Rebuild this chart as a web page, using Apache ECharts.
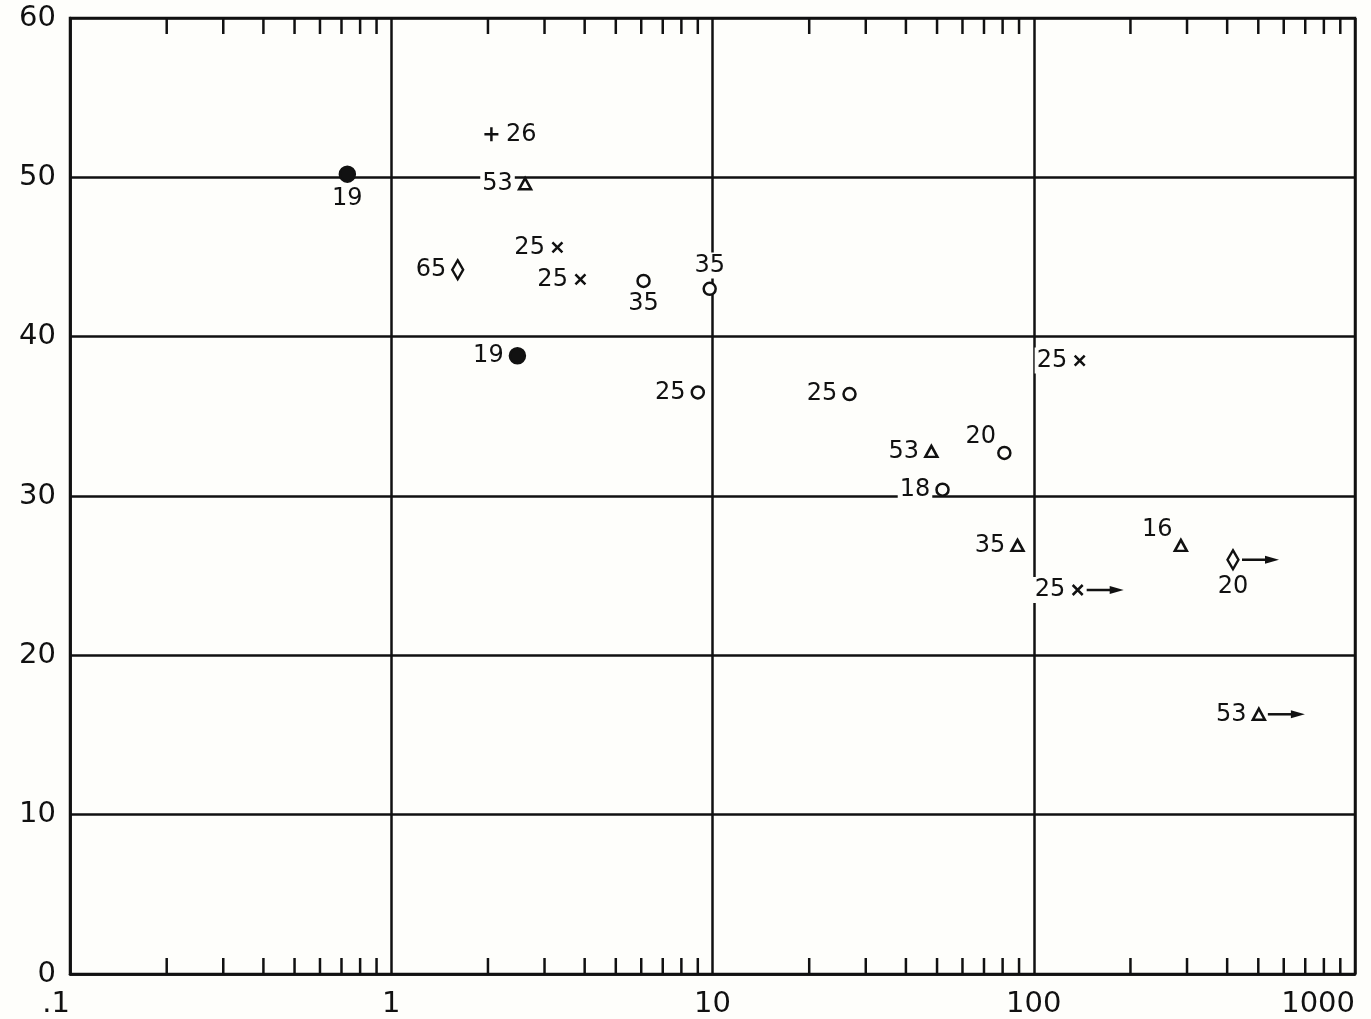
<!DOCTYPE html>
<html>
<head>
<meta charset="utf-8">
<script src="https://cdn.jsdelivr.net/npm/echarts@6/dist/echarts.min.js"></script>
<style>
html, body { margin: 0; padding: 0; background: #fefefb; }
#chart { width: 1371px; height: 1019px; }
</style>
</head>
<body>
<div id="chart"></div>
<script>
// Points as [x, y]; each mark carries the number written beside it.
const filledDots = [[0.73, 50.2], [2.47, 38.8]];
const filledDotLabels = ['19', '19'];
const filledDotSides = ['bottom', 'left'];

const openDots = [[6.1, 43.5], [9.8, 43.0], [9.0, 36.5], [26.7, 36.4], [81, 32.7], [52, 30.4]];
const openDotLabels = ['35', '35', '25', '25', '20', '18'];
const openDotSides = ['bottom', 'top', 'left', 'left', 'topleft', 'left'];

const triangles = [[2.61, 49.6], [48, 32.8], [89, 26.9], [287, 26.9], [502, 16.3]];
const triangleLabels = ['53', '53', '35', '16', '53'];
const triangleSides = ['left', 'left', 'left', 'topleft', 'left'];

const crosses = [[3.29, 45.6], [3.88, 43.6], [139, 38.5], [137, 24.1]];
const crossLabels = ['25', '25', '25', '25'];
const crossSides = ['left', 'left', 'left', 'left'];

const pluses = [[2.05, 52.7]];
const plusLabels = ['26'];
const plusSides = ['right'];

const diamonds = [[1.61, 44.2], [417, 26.0]];
const diamondLabels = ['65', '20'];
const diamondSides = ['left', 'bottom'];

// marks whose value is a lower bound, drawn with an arrow to the right
const lowerBounds = [[137, 24.1], [417, 26.0], [502, 16.3]];

const xDecades = [0.1, 1, 10, 100];
const xMantissas = [2, 3, 4, 5, 6, 7, 8, 9];
const xTickLabels = { 0.1: '.1', 1: '1', 10: '10', 100: '100', 1000: '1000' };

const INK = '#111';
const PAPER = '#fefefb';
const FONT = 'DejaVu Sans';
const LINE = 2.5;

const labelFor = ( text, side ) => {
	const base = {
		show: true,
		formatter: text,
		color: INK,
		fontFamily: FONT,
		fontSize: 24,
		backgroundColor: PAPER,
		padding: [ 1, 2 ],
		distance: 3
	};
	if ( side === 'topleft' ) {
		return Object.assign( base, { position: 'left', offset: [ 4, -16 ] } );
	}
	return Object.assign( base, { position: side } );
};

const pointsSeries = ( points, labels, sides, symbol, size, fill ) => ( {
	type: 'scatter',
	symbol,
	symbolSize: size,
	z: 5,
	itemStyle: { color: fill, borderColor: INK, borderWidth: LINE, opacity: 1 },
	data: points.map( ( p, i ) => ( {
		value: p,
		label: labelFor( labels[ i ], sides[ i ] )
	} ) )
} );

const minorTicks = [];
xDecades.forEach( ( d ) => xMantissas.forEach( ( m ) => minorTicks.push( [ +( d * m ).toPrecision( 3 ), 0 ] ) ) );

const chart = echarts.init( document.getElementById( 'chart' ), null, { renderer: 'canvas' } );

chart.setOption( {
	backgroundColor: PAPER,
	animation: false,
	grid: {
		left: 70, right: 16, top: 18, bottom: 44,
		show: true, borderColor: INK, borderWidth: LINE
	},
	xAxis: {
		type: 'log',
		logBase: 10,
		min: 0.1,
		max: 1000,
		axisLine: { show: true, lineStyle: { color: INK, width: LINE } },
		axisTick: { show: false },
		splitLine: { show: true, lineStyle: { color: INK, width: LINE } },
		axisLabel: {
			color: INK, fontFamily: FONT, fontSize: 29, margin: 16,
			alignMinLabel: 'right', alignMaxLabel: 'right',
			formatter: ( v ) => xTickLabels[ +v.toPrecision( 3 ) ] || ''
		}
	},
	yAxis: {
		type: 'value',
		min: 0,
		max: 60,
		interval: 10,
		axisLine: { show: true, lineStyle: { color: INK, width: LINE } },
		axisTick: { show: false },
		splitLine: { show: true, lineStyle: { color: INK, width: LINE } },
		axisLabel: { color: INK, fontFamily: FONT, fontSize: 29, margin: 14 }
	},
	series: [
		{
			type: 'custom',
			silent: true,
			z: 3,
			data: minorTicks,
			renderItem: ( params, api ) => {
				const v = api.value( 0 );
				const b = api.coord( [ v, 0 ] );
				const t = api.coord( [ v, 60 ] );
				const style = { stroke: INK, lineWidth: LINE };
				return {
					type: 'group',
					children: [
						{ type: 'line', shape: { x1: b[ 0 ], y1: b[ 1 ], x2: b[ 0 ], y2: b[ 1 ] - 16 }, style },
						{ type: 'line', shape: { x1: t[ 0 ], y1: t[ 1 ], x2: t[ 0 ], y2: t[ 1 ] + 16 }, style }
					]
				};
			}
		},
		{
			type: 'custom',
			silent: true,
			z: 4,
			data: lowerBounds,
			renderItem: ( params, api ) => {
				const p = api.coord( [ api.value( 0 ), api.value( 1 ) ] );
				return {
					type: 'group',
					children: [
						{ type: 'line', shape: { x1: p[ 0 ] + 9, y1: p[ 1 ], x2: p[ 0 ] + 38, y2: p[ 1 ] }, style: { stroke: INK, lineWidth: LINE } },
						{ type: 'polygon', shape: { points: [ [ p[ 0 ] + 32, p[ 1 ] - 4 ], [ p[ 0 ] + 46, p[ 1 ] ], [ p[ 0 ] + 32, p[ 1 ] + 4 ] ] }, style: { fill: INK } }
					]
				};
			}
		},
		pointsSeries( filledDots, filledDotLabels, filledDotSides, 'circle', 15, INK ),
		pointsSeries( openDots, openDotLabels, openDotSides, 'circle', 12, PAPER ),
		pointsSeries( triangles, triangleLabels, triangleSides, 'triangle', [ 12, 11 ], PAPER ),
		pointsSeries( crosses, crossLabels, crossSides, 'path://M0,0L10,10M10,0L0,10', 10, 'none' ),
		pointsSeries( pluses, plusLabels, plusSides, 'path://M5,0L5,10M0,5L10,5', 14, 'none' ),
		pointsSeries( diamonds, diamondLabels, diamondSides, 'path://M5,0L10,9L5,18L0,9Z', [ 11, 19 ], PAPER )
	]
} );
</script>
</body>
</html>
